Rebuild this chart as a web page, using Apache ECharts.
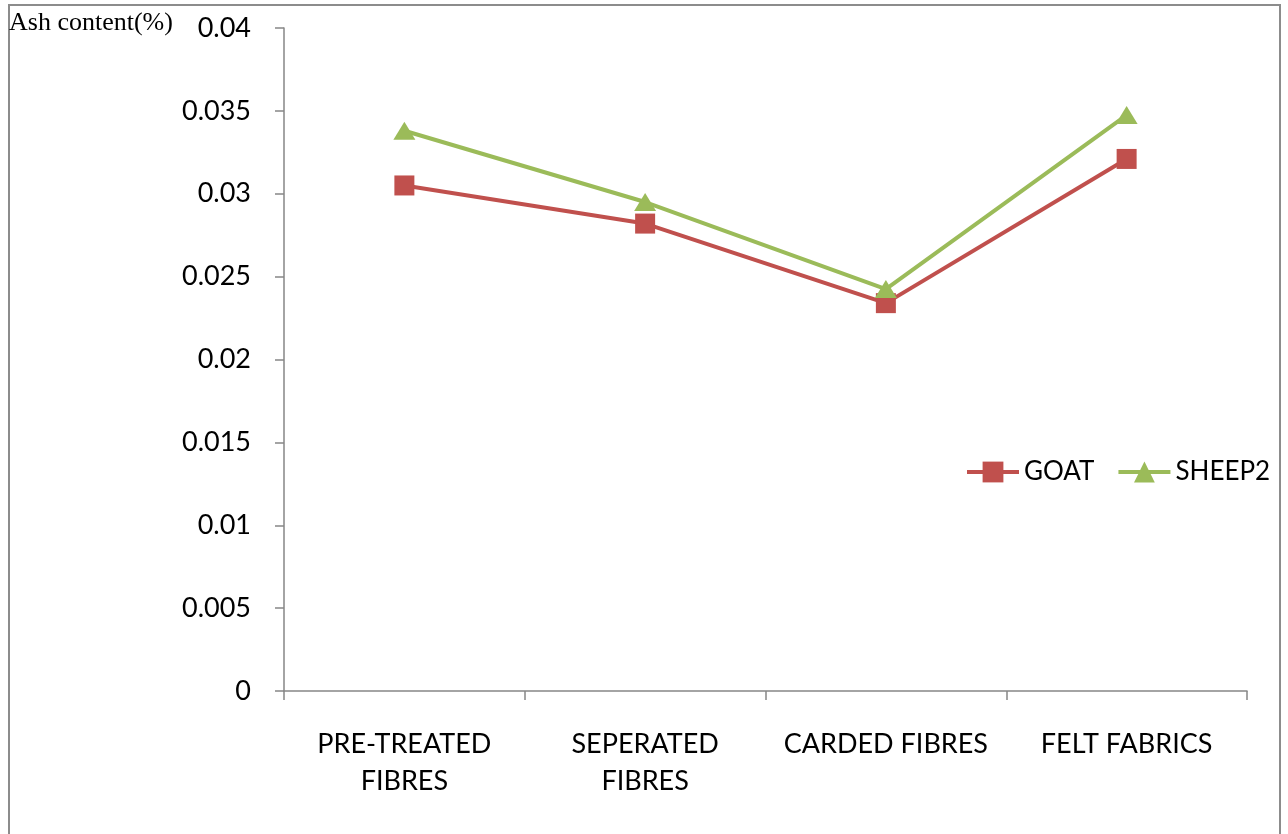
<!DOCTYPE html>
<html><head><meta charset="utf-8">
<script src="https://cdn.jsdelivr.net/npm/echarts@6/dist/echarts.min.js"></script>
<style>html,body{margin:0;padding:0;background:#fff}#c{width:1288px;height:834px}</style>
</head><body><div id="c"></div>
<script>
const categories = ['PRE-TREATED\nFIBRES', 'SEPERATED\nFIBRES', 'CARDED FIBRES', 'FELT FABRICS'];
const goat = [0.0305, 0.0282, 0.0234, 0.0321];
const sheep2 = [0.0338, 0.0295, 0.02425, 0.03475];
const yTicks = { min: 0, max: 0.04, interval: 0.005 };

const chart = echarts.init(document.getElementById('c'));
const font = 'Lato, "Open Sans", sans-serif';
chart.setOption({
  animation: false,
  backgroundColor: '#fff',
  graphic: [
    { type: 'rect', shape: { x: 9, y: 5, width: 1271, height: 840 }, style: { fill: 'none', stroke: '#8c8c8c', lineWidth: 2 }, z: 0 },
    { type: 'text', left: 9, top: 10, style: { text: 'Ash content(%)', font: '26px "Liberation Serif", "Times New Roman", serif', fill: '#000' } }
  ],
  grid: { left: 284, right: 41, top: 28, bottom: 143 },
  legend: {
    left: 965, top: 459, padding: 0, itemWidth: 52, itemHeight: 26, itemGap: 22,
    lineStyle: { width: 4 },
    textStyle: { fontFamily: font, fontSize: 26, color: '#000', padding: [0, 0, 0, 0] },
    data: ['GOAT', 'SHEEP2']
  },
  xAxis: {
    type: 'category', data: categories, boundaryGap: true,
    axisLine: { lineStyle: { color: '#868686', width: 1.5 } },
    axisTick: { show: true, length: 9, alignWithLabel: false, lineStyle: { color: '#868686', width: 1.5 } },
    axisLabel: { fontFamily: font, fontSize: 27, color: '#000', margin: 35, lineHeight: 37, interval: 0 },
    splitLine: { show: false }
  },
  yAxis: {
    type: 'value', min: yTicks.min, max: yTicks.max, interval: yTicks.interval,
    axisLine: { show: true, lineStyle: { color: '#868686', width: 1.5 } },
    axisTick: { show: true, length: 9, lineStyle: { color: '#868686', width: 1.5 } },
    axisLabel: { fontFamily: font, fontSize: 27, color: '#000', margin: 33, formatter: v => String(+v.toFixed(3)) },
    splitLine: { show: false }
  },
  series: [
    { name: 'GOAT', type: 'line', data: goat, symbol: 'rect', symbolSize: 20, lineStyle: { color: '#c0504d', width: 4 }, itemStyle: { color: '#c0504d' } },
    { name: 'SHEEP2', type: 'line', data: sheep2, symbol: 'triangle', symbolSize: [22, 18], lineStyle: { color: '#9bbb59', width: 4 }, itemStyle: { color: '#9bbb59' } }
  ]
});
</script></body></html>
